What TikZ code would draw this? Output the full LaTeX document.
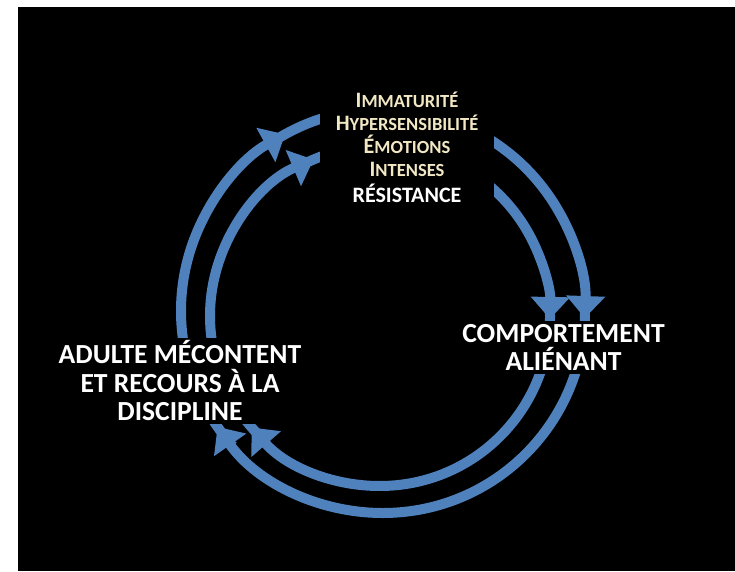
\documentclass[tikz,border=0pt]{standalone}
\usepackage{fontspec}
\setmainfont{Carlito}
\usetikzlibrary{arrows.meta,calc}

\definecolor{ringblue}{RGB}{79,129,189}
\definecolor{cream}{RGB}{242,232,196}

% fake small caps: big first letter, smaller capitals after it
\newcommand{\fakesc}[2]{{\fontsize{22}{23}\selectfont #1}{\fontsize{18.5}{23}\selectfont #2}}

\begin{document}
\begin{tikzpicture}[x=1pt,y=1pt,>={Triangle[width=38pt,length=22pt]},
    cyclearc/.style={draw=ringblue,line width=10pt,->},
    boxtext/.style={fill=black,text=white,align=center,inner sep=3pt,
        font=\bfseries\fontsize{27.6}{28.5}\selectfont}]
    \useasboundingbox (0,0) rectangle (735,571);
    \fill[white] (0,0) rectangle (735,571);
    \fill[black] (18,0) rectangle (735,564);

    \coordinate (outc) at (383,260);
    \coordinate (innc) at (380,255);
    % outer ring
    \foreach \s/\e in {222/119, 125/-2, 3/-145}
    {
        \draw[cyclearc] ($(outc)+(\s:202)$) arc[start angle=\s, end angle=\e, radius=202];
    }
    % inner ring
    \foreach \s/\e in {227/113, 119/-1, 4/-139}
    {
        \draw[cyclearc] ($(innc)+(\s:170)$) arc[start angle=\s, end angle=\e, radius=170];
    }

    \node[boxtext, text=cream, inner xsep=16pt, inner ysep=5pt,
        font=\bfseries\fontsize{22}{23}\selectfont] (traits) at (407,423.7)
        {\fakesc{I}{MMATURITÉ}\\
         \fakesc{H}{YPERSENSIBILITÉ}\\
         \fakesc{É}{MOTIONS}\\
         \fakesc{I}{NTENSES}\\[3pt]
         {\color{white}RÉSISTANCE}};
    \node[boxtext] (alien) at (563.5,223.6) {COMPORTEMENT\\ALIÉNANT};
    \node[boxtext] (adult) at (180,190) {ADULTE MÉCONTENT\\ET RECOURS À LA\\DISCIPLINE};
\end{tikzpicture}
\end{document}
